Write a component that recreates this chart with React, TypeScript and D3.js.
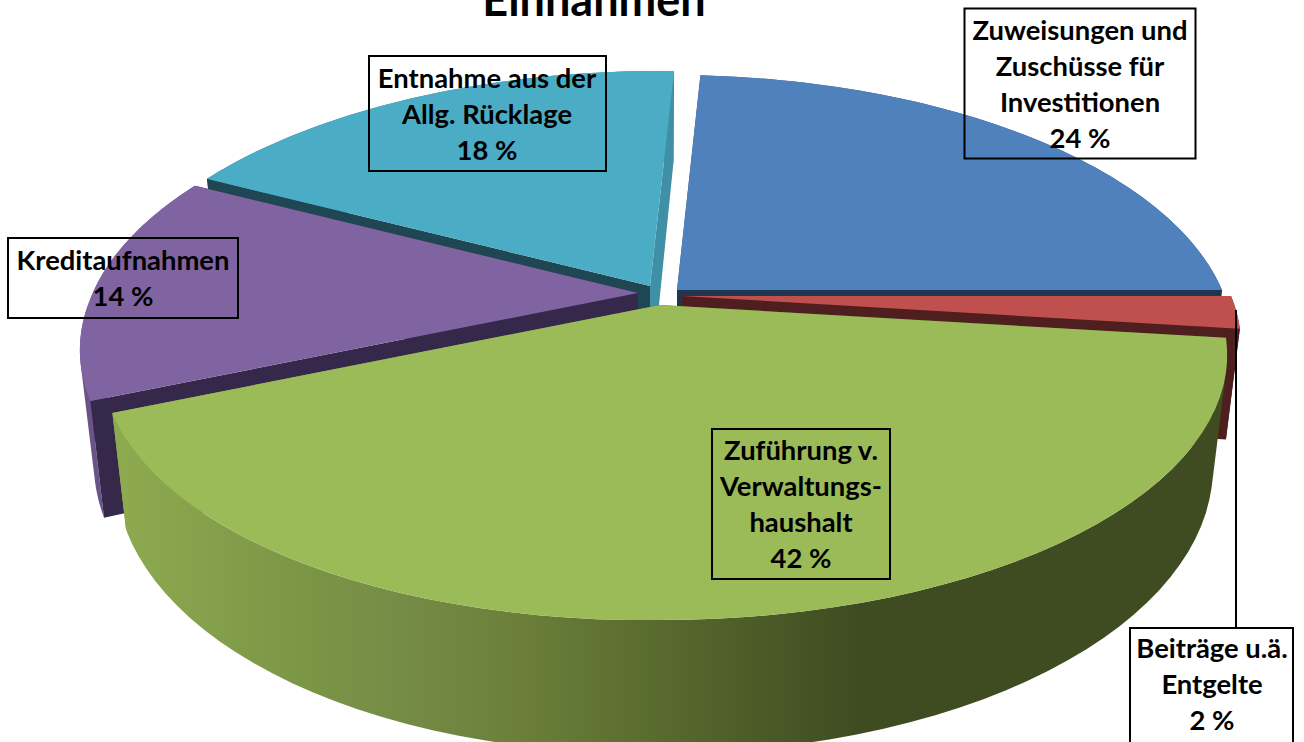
import React from "react";
import * as d3 from "d3";

const categories = [
  "Zuweisungen und Zuschüsse für Investitionen",
  "Beiträge u.ä. Entgelte",
  "Zuführung v. Verwaltungshaushalt",
  "Kreditaufnahmen",
  "Entnahme aus der Allg. Rücklage",
];
const shares = [24, 2, 42, 14, 18];
const topColors = ["#4F81BD", "#C0504D", "#9BBB59", "#8064A2", "#4BACC6"];
const outerColors = ["#3A5F8C", "#4F1F1F", "url(#greenSide)", "#6A5388", "#3F90A6"];
const startWallColors = ["#2F4D71", "#4F1F1F", "url(#greenSide)", "#35284A", "#1F4653"];
const endWallColors = ["#1F3550", "#4F1F1F", "url(#greenSide)", "#35284A", "#3F90A6"];
const labelLines = [
  ["Zuweisungen und", "Zuschüsse für", "Investitionen", "24 %"],
  ["Beiträge u.ä.", "Entgelte", "2 %"],
  ["Zuführung v.", "Verwaltungs-", "haushalt", "42 %"],
  ["Kreditaufnahmen", "14 %"],
  ["Entnahme aus der", "Allg. Rücklage", "18 %"],
];

// layout of the drawing
const W = 1304, H = 742;
const apexes: [number, number][] = [[677, 290], [682, 296], [660, 305], [638, 293], [650, 286]];
const radii = [545, 549, 557, 557, 557];
const paintOrder = [4, 0, 3, 1, 2];
const labelBoxes = [
  { x: 964.5, y: 8.5, w: 231, h: 150, cx: 1080, base: 40 },
  { x: 1130, y: 628, w: 163, h: 130, cx: 1212, base: 658 },
  { x: 712, y: 429, w: 178, h: 150, cx: 801, base: 460 },
  { x: 8, y: 238, w: 230, h: 80, cx: 123, base: 270 },
  { x: 369, y: 56, w: 237, h: 115, cx: 487, base: 88 },
];
const LINE_H = 36;
const D = 5.3, K = 255.6;
const BOTTOM_X = 0.975, BOTTOM_Y = 1.08, BOTTOM_OFF = 108;
const ROT = (3.6 * Math.PI) / 180;
const LEFT_X = 0.984, LEFT_SHEAR = 0.0125, BACK_SKEW = 0.025;

type P = [number, number];
const planar = (a: number, r: number): P => {
  const X = Math.sin(a), Y = Math.cos(a);
  const s = D / (D + Y);
  const x0 = X * r * s;
  const y = -Y * K * s;
  const x = y < 0 ? x0 + y * BACK_SKEW : x0;
  return x < 0 ? [x * LEFT_X, y - x * LEFT_SHEAR] : [x, y];
};
const topPt = (a: number, r: number, ap: P): P => {
  const p = planar(a, r);
  return [ap[0] + p[0], ap[1] + p[1]];
};
const bottomPt = (a: number, r: number, ap: P): P => {
  const p = planar(a, r);
  return [ap[0] + p[0] * BOTTOM_X, ap[1] + p[1] * BOTTOM_Y + BOTTOM_OFF];
};
const line = d3.line<P>().x((d) => d[0]).y((d) => d[1]);
const closed = (pts: P[]) => (line(pts) as string) + "Z";

const pie = d3.pie<number>().sort(null).startAngle(ROT).endAngle(ROT + 2 * Math.PI);
const arcs = pie(shares);

const greenStops: [number, string][] = [
  [120, "#8DAA50"], [300, "#7B9646"], [400, "#758C46"], [520, "#6B7F3A"],
  [660, "#586A2E"], [800, "#465525"], [860, "#3F4B21"], [1220, "#3F4B21"],
];

export default function App() {
  const slices = paintOrder.map((i) => {
    const arc = arcs[i];
    const ap = apexes[i], r = radii[i];
    const angles = d3.range(0, 61).map((k) => arc.startAngle + ((arc.endAngle - arc.startAngle) * k) / 60);
    const topRim = angles.map((a) => topPt(a, r, ap));
    const botRim = angles.map((a) => bottomPt(a, r, ap));
    const botApex: P = [ap[0], ap[1] + BOTTOM_OFF];
    // each rim step becomes a convex quad, so the silhouette between both rims is filled
    const outer = d3
      .range(0, 60)
      .map((k) => closed(d3.polygonHull([topRim[k], topRim[k + 1], botRim[k + 1], botRim[k]]) as P[]))
      .join("");
    const startWall = closed([ap, topRim[0], botRim[0], botApex]);
    const endWall = closed([ap, topRim[60], botRim[60], botApex]);
    const top = closed([ap, ...topRim]);
    return { i, outer, startWall, endWall, top };
  });

  return (
    <svg
      width={W}
      height={H}
      viewBox={`0 0 ${W} ${H}`}
      style={{ position: "fixed", left: 0, top: 0, background: "#fff", fontFamily: "Lato, sans-serif" }}
    >
      <defs>
        <linearGradient id="greenSide" gradientUnits="userSpaceOnUse" x1={120} y1={0} x2={1220} y2={0}>
          {greenStops.map(([x, c]) => (
            <stop key={x} offset={(x - 120) / 1100} stopColor={c} />
          ))}
        </linearGradient>
      </defs>
      <text x={594} y={16} textAnchor="middle" fontSize={45} fontWeight={700} fill="#000">Einnahmen</text>
      {slices.map((s) => (
        <g key={categories[s.i]}>
          <path d={s.outer} fill={outerColors[s.i]} />
          <path d={s.startWall} fill={startWallColors[s.i]} />
          <path d={s.endWall} fill={endWallColors[s.i]} />
          <path d={s.top} fill={topColors[s.i]} />
        </g>
      ))}
      <line x1={1236} y1={310} x2={1236} y2={628} stroke="#000" strokeWidth={2} />
      {labelBoxes.map((b, i) => (
        <g key={i}>
          <rect x={b.x} y={b.y} width={b.w} height={b.h} fill={i === 1 ? "#fff" : "none"} stroke="#000" strokeWidth={2} />
          {labelLines[i].map((t, j) => (
            <text key={j} x={b.cx} y={b.base + j * LINE_H} textAnchor="middle" fontSize={27.4} fontWeight={700} fill="#000">{t}</text>
          ))}
        </g>
      ))}
    </svg>
  );
}
